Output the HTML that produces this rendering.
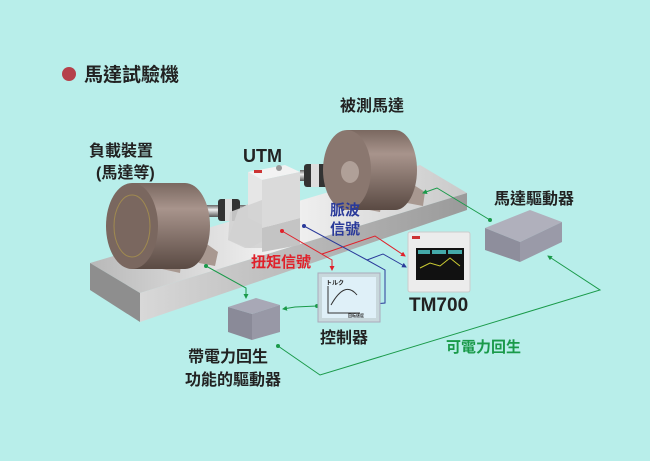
<!DOCTYPE html>
<html><head><meta charset="utf-8"><style>
html,body{margin:0;padding:0;background:#b8eeea;}
svg{display:block;}
text{font-family:"Liberation Sans","Noto Sans CJK TC",sans-serif;font-weight:bold;}
</style></head><body>
<svg width="650" height="461" viewBox="0 0 650 461" xmlns="http://www.w3.org/2000/svg">
<defs>
<linearGradient id="top" x1="0" y1="0" x2="1" y2="0"><stop offset="0" stop-color="#b8b8b8"/><stop offset="0.5" stop-color="#f4f4f4"/><stop offset="1" stop-color="#c9c9c9"/></linearGradient>
<linearGradient id="front" x1="0" y1="0" x2="1" y2="0"><stop offset="0" stop-color="#d8d8d8"/><stop offset="1" stop-color="#9a9a9a"/></linearGradient>
<linearGradient id="motor" x1="0" y1="0" x2="0" y2="1"><stop offset="0" stop-color="#7a6860"/><stop offset="0.3" stop-color="#a8948c"/><stop offset="1" stop-color="#5a4a43"/></linearGradient>
<linearGradient id="shaft" x1="0" y1="0" x2="0" y2="1"><stop offset="0" stop-color="#666"/><stop offset="0.4" stop-color="#eee"/><stop offset="1" stop-color="#555"/></linearGradient>
<marker id="ag" viewBox="0 0 10 10" refX="8" refY="5" markerWidth="5" markerHeight="5" orient="auto"><path d="M0,0L10,5L0,10z" fill="#1a9a4a"/></marker>
<marker id="ar" viewBox="0 0 10 10" refX="8" refY="5" markerWidth="5" markerHeight="5" orient="auto"><path d="M0,0L10,5L0,10z" fill="#e0202a"/></marker>
<marker id="ab" viewBox="0 0 10 10" refX="8" refY="5" markerWidth="5" markerHeight="5" orient="auto"><path d="M0,0L10,5L0,10z" fill="#2a3a9a"/></marker>
</defs>
<rect width="650" height="461" fill="#b8eeea"/>
<circle cx="69" cy="74" r="7" fill="#b5404a"/>
<text x="84" y="81" font-size="19" fill="#222">馬達試驗機</text>

<!-- slab -->
<polygon points="90,263 420,165 467,193 140,293" fill="url(#top)"/>
<polygon points="140,293 467,193 467,210 140,322" fill="url(#front)"/>
<polygon points="90,263 140,293 140,322 90,290" fill="#8e8e8e"/>

<!-- right motor -->
<rect x="300" y="170" width="50" height="11" fill="url(#shaft)"/>
<rect x="304" y="164" width="24" height="23" rx="3" fill="#333"/>
<rect x="311" y="164" width="8" height="23" fill="#ddd"/>
<path d="M397,190 l12,-8 l16,10 l-2,14 l-16,-3z" fill="#a89890"/>
<path d="M355,196 l14,-8 l14,10 l-3,14 l-16,-3z" fill="#a89890"/>
<path d="M347,130 L395,130 A22,40 0 0 1 395,210 L347,210 Z" fill="url(#motor)"/>
<ellipse cx="347" cy="170" rx="24" ry="40" fill="#8a776f"/>
<ellipse cx="350" cy="172" rx="9" ry="11" fill="#b0a098"/>

<!-- left motor -->
<rect x="195" y="205" width="60" height="12" fill="url(#shaft)"/>
<rect x="218" y="199" width="22" height="22" rx="3" fill="#333"/>
<rect x="225" y="199" width="7" height="22" fill="#ddd"/>
<path d="M152,255 l14,-10 l16,10 l-2,18 l-18,-4z" fill="#a89890"/>
<path d="M190,250 l14,-8 l14,10 l-3,14 l-16,-3z" fill="#a89890"/>
<path d="M132,183 L185,183 A25,43 0 0 1 185,269 L132,269 Z" fill="url(#motor)"/>
<ellipse cx="132" cy="226" rx="26" ry="43" fill="#7a675f"/>
<ellipse cx="132" cy="226" rx="18" ry="31" fill="none" stroke="#a08a50" stroke-width="1"/>

<!-- UTM -->
<polygon points="238,210 268,192 268,238 250,248 228,240" fill="#cfcfcf"/>
<polygon points="262,228 300,218 300,245 262,252" fill="#c4c4c4"/>
<polygon points="248,172 285,165 300,172 262,180" fill="#f2f2f2"/>
<polygon points="248,172 262,180 262,225 248,218" fill="#e6e6e6"/>
<polygon points="262,180 300,172 300,218 262,228" fill="#dadada"/>
<rect x="254" y="170" width="8" height="3" fill="#c33"/>
<circle cx="279" cy="168" r="3" fill="#999"/>
<polygon points="230,212 262,200 262,248 245,248 228,240" fill="#d2d2d2" opacity="0.9"/>

<!-- connectors -->
<g fill="none" stroke-width="1">
<polyline points="282,231 332,260 332,270" stroke="#e0202a" marker-end="url(#ar)"/>
<polyline points="322,254 375,236 405,256" stroke="#e0202a" marker-end="url(#ar)"/>
<polyline points="304,226 367,260 385,270 385,303 375,304" stroke="#2a3a9a" marker-end="url(#ab)"/>
<polyline points="367,260 383,254 406,267" stroke="#2a3a9a" marker-end="url(#ab)"/>
<polyline points="206,266 246,288 246,298" stroke="#1a9a4a" marker-end="url(#ag)"/>
<polyline points="317,306 295,307 283,309" stroke="#1a9a4a" marker-end="url(#ag)"/>
<polyline points="490,220 437,188 423,193" stroke="#1a9a4a" marker-end="url(#ag)"/>
<polyline points="278,346 320,375 600,290 548,256" stroke="#1a9a4a" marker-end="url(#ag)"/>
</g>
<g>
<circle cx="282" cy="231" r="2" fill="#e0202a"/><circle cx="304" cy="226" r="2" fill="#2a3a9a"/>
<circle cx="206" cy="266" r="2" fill="#1a9a4a"/><circle cx="317" cy="306" r="2" fill="#1a9a4a"/>
<circle cx="490" cy="220" r="2" fill="#1a9a4a"/><circle cx="278" cy="346" r="2" fill="#1a9a4a"/>
</g>

<!-- controller -->
<rect x="318" y="273" width="62" height="49" fill="#c8d8dc" stroke="#aab"/>
<rect x="322" y="277" width="54" height="41" fill="#dff0f8"/>
<text x="326" y="285" font-size="6" font-weight="normal" fill="#222">トルク</text>
<path d="M328,286 V313 H360" stroke="#333" fill="none"/>
<path d="M331,305 Q345,280 357,295" stroke="#333" fill="none"/>
<text x="348" y="317" font-size="4" font-weight="normal" fill="#333">回転速度</text>

<!-- TM700 -->
<rect x="408" y="232" width="62" height="60" rx="2" fill="#ececec" stroke="#ccc"/>
<rect x="416" y="248" width="48" height="32" fill="#111"/>
<rect x="418" y="250" width="12" height="4" fill="#4aa"/><rect x="432" y="250" width="14" height="4" fill="#4aa"/><rect x="448" y="250" width="14" height="4" fill="#4aa"/>
<polyline points="420,268 430,263 440,266 450,258 460,266" stroke="#cc3" fill="none"/>
<rect x="412" y="236" width="8" height="3" fill="#c33"/>

<!-- boxes -->
<polygon points="485,228 530,210 562,222 520,242" fill="#b0b0bc"/>
<polygon points="485,228 520,242 520,262 485,250" fill="#8e8e9c"/>
<polygon points="520,242 562,222 562,242 520,262" fill="#9a9aa8"/>
<polygon points="228,307 256,298 280,305 252,314" fill="#a8a8b6"/>
<polygon points="228,307 252,314 252,340 228,332" fill="#8a8a98"/>
<polygon points="252,314 280,305 280,332 252,340" fill="#9898a6"/>

<!-- labels -->
<g fill="#222" font-size="16">
<text x="89" y="156">負載裝置</text>
<text x="96" y="178">(馬達等)</text>
<text x="243" y="162" font-size="18">UTM</text>
<text x="340" y="111">被測馬達</text>
<text x="494" y="204">馬達驅動器</text>
<text x="409" y="311" font-size="19">TM700</text>
<text x="320" y="343">控制器</text>
<text x="188" y="362">帶電力回生</text>
<text x="185" y="385">功能的驅動器</text>
</g>
<g font-size="15">
<text x="330" y="215" fill="#2a3a9a">脈波</text>
<text x="330" y="234" fill="#2a3a9a">信號</text>
<text x="251" y="267" fill="#e0202a">扭矩信號</text>
<text x="446" y="352" fill="#1a9a4a">可電力回生</text>
</g>
</svg>
</body></html>
